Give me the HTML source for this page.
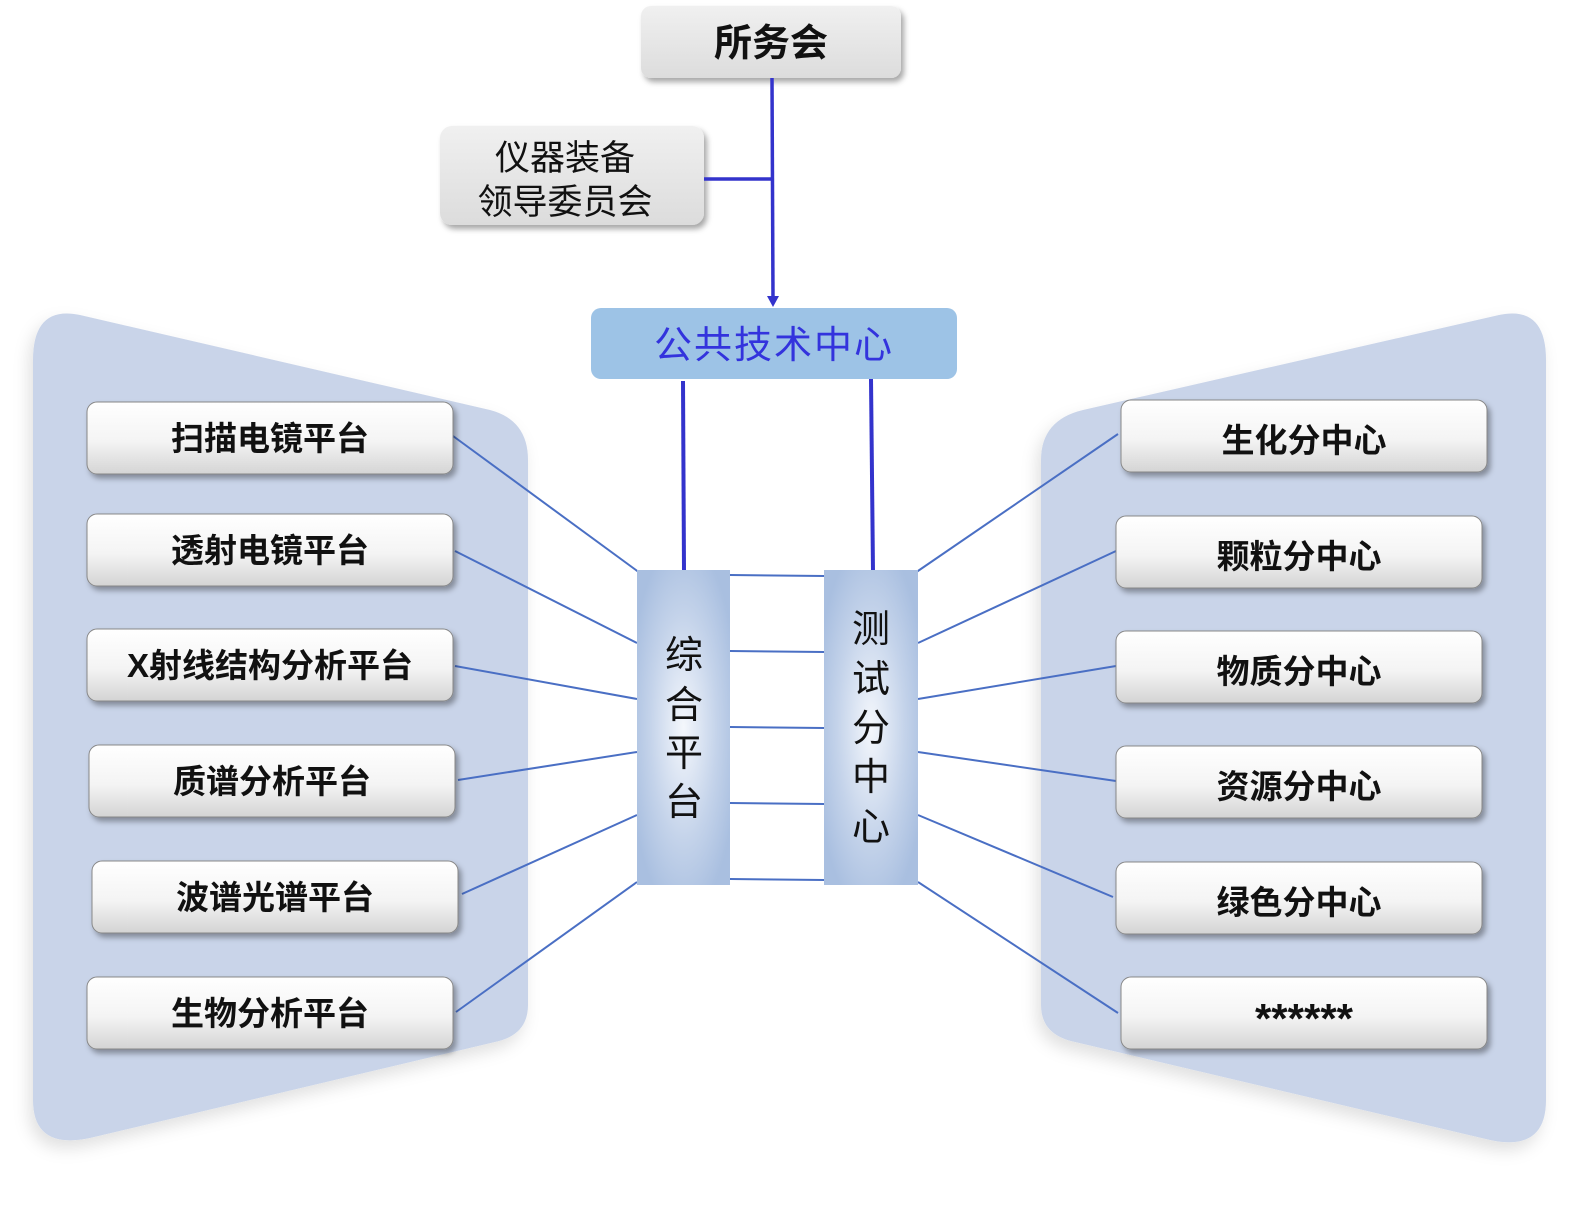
<!DOCTYPE html>
<html><head><meta charset="utf-8"><style>
html,body{margin:0;padding:0;background:#fff;}
svg{display:block;}
text{font-family:"Liberation Sans","Noto Sans CJK SC",sans-serif;}
</style></head><body>
<svg width="1575" height="1226" viewBox="0 0 1575 1226" xmlns="http://www.w3.org/2000/svg">
<defs>
<linearGradient id="btn" x1="0" y1="0" x2="0" y2="1">
<stop offset="0" stop-color="#ffffff"/><stop offset="0.55" stop-color="#f4f4f4"/><stop offset="1" stop-color="#d4d4d4"/>
</linearGradient>
<linearGradient id="gray" x1="0" y1="0" x2="0" y2="1">
<stop offset="0" stop-color="#f0f0f0"/><stop offset="1" stop-color="#dcdcdc"/>
</linearGradient>
<radialGradient id="col" cx="0.5" cy="0.5" r="0.6">
<stop offset="0" stop-color="#f4f7fc"/><stop offset="0.6" stop-color="#c4d3ea"/><stop offset="1" stop-color="#a9bfe0"/>
</radialGradient>
<filter id="sh" x="-10%" y="-10%" width="130%" height="140%"><feDropShadow dx="3" dy="4" stdDeviation="3" flood-color="#000" flood-opacity="0.35"/></filter>
<filter id="psh" x="-10%" y="-10%" width="120%" height="120%"><feDropShadow dx="-4" dy="8" stdDeviation="8" flood-color="#000" flood-opacity="0.12"/></filter>
</defs>

<path d="M33,360 Q33,305 80,315 L490,410 Q528,420 528,460 L528,1005 Q528,1035 495,1042 L90,1138 Q33,1150 33,1100 Z" fill="#c9d4e9" filter="url(#psh)"/>
<path d="M1546,360 Q1546,305 1499,315 L1083,410 Q1041,420 1041,460 L1041,1005 Q1041,1035 1075,1042 L1490,1140 Q1546,1152 1546,1100 Z" fill="#c9d4e9" filter="url(#psh)"/>

<rect x="641" y="6" width="260" height="72" rx="10" fill="url(#gray)" filter="url(#sh)"/>
<text x="771" y="56" font-size="38" font-weight="bold" text-anchor="middle" fill="#111">所务会</text>
<rect x="440" y="126" width="264" height="99" rx="12" fill="url(#gray)" filter="url(#sh)"/>
<text x="565" y="170" font-size="35" text-anchor="middle" fill="#111">仪器装备</text>
<text x="565" y="214" font-size="35" text-anchor="middle" fill="#111">领导委员会</text>
<line x1="772" y1="78" x2="773" y2="298" stroke="#3333cc" stroke-width="3.5"/>
<polygon points="767,296 779,296 773,307" fill="#3333cc"/>
<line x1="704" y1="179" x2="772" y2="179" stroke="#3333cc" stroke-width="3.5"/>

<rect x="591" y="308" width="366" height="71" rx="10" fill="#9dc3e6"/>
<text x="774" y="358" font-size="38" text-anchor="middle" fill="#3333dd" letter-spacing="2">公共技术中心</text>
<line x1="683" y1="381" x2="684" y2="572" stroke="#3333cc" stroke-width="4"/>
<line x1="871" y1="379" x2="873" y2="572" stroke="#3333cc" stroke-width="4"/>

<g stroke="#4a6fc4" stroke-width="2" fill="none">
<line x1="453" y1="436" x2="640" y2="573"/>
<line x1="455" y1="551" x2="637" y2="643"/>
<line x1="455" y1="666" x2="637" y2="699"/>
<line x1="458" y1="780" x2="637" y2="752"/>
<line x1="462" y1="894" x2="637" y2="815"/>
<line x1="456" y1="1012" x2="637" y2="882"/>
<line x1="915" y1="573" x2="1118" y2="434"/>
<line x1="918" y1="643" x2="1116" y2="551"/>
<line x1="918" y1="699" x2="1116" y2="666"/>
<line x1="918" y1="752" x2="1116" y2="781"/>
<line x1="918" y1="815" x2="1113" y2="897"/>
<line x1="918" y1="882" x2="1118" y2="1013"/>
<line x1="730" y1="575" x2="824" y2="576"/>
<line x1="730" y1="651" x2="824" y2="652"/>
<line x1="730" y1="727" x2="824" y2="728"/>
<line x1="730" y1="803" x2="824" y2="804"/>
<line x1="730" y1="879" x2="824" y2="880"/>
</g>

<rect x="637" y="570" width="93" height="315" fill="url(#col)"/>
<rect x="824" y="570" width="94" height="315" fill="url(#col)"/>
<g font-size="38" text-anchor="middle" fill="#111">
<text x="684" y="668">综</text><text x="684" y="718">合</text><text x="684" y="766">平</text><text x="684" y="815">台</text>
<text x="871" y="642">测</text><text x="871" y="692">试</text><text x="871" y="741">分</text><text x="871" y="790">中</text><text x="871" y="840">心</text>
</g>

<g filter="url(#sh)">
<rect x="87" y="402" width="366" height="72" rx="10" fill="url(#btn)" stroke="#888" stroke-width="1"/>
<rect x="87" y="514" width="366" height="72" rx="10" fill="url(#btn)" stroke="#888" stroke-width="1"/>
<rect x="87" y="629" width="366" height="72" rx="10" fill="url(#btn)" stroke="#888" stroke-width="1"/>
<rect x="89" y="745" width="366" height="72" rx="10" fill="url(#btn)" stroke="#888" stroke-width="1"/>
<rect x="92" y="861" width="366" height="72" rx="10" fill="url(#btn)" stroke="#888" stroke-width="1"/>
<rect x="87" y="977" width="366" height="72" rx="10" fill="url(#btn)" stroke="#888" stroke-width="1"/>
<rect x="1121" y="400" width="366" height="72" rx="10" fill="url(#btn)" stroke="#888" stroke-width="1"/>
<rect x="1116" y="516" width="366" height="72" rx="10" fill="url(#btn)" stroke="#888" stroke-width="1"/>
<rect x="1116" y="631" width="366" height="72" rx="10" fill="url(#btn)" stroke="#888" stroke-width="1"/>
<rect x="1116" y="746" width="366" height="72" rx="10" fill="url(#btn)" stroke="#888" stroke-width="1"/>
<rect x="1116" y="862" width="366" height="72" rx="10" fill="url(#btn)" stroke="#888" stroke-width="1"/>
<rect x="1121" y="977" width="366" height="72" rx="10" fill="url(#btn)" stroke="#888" stroke-width="1"/>
</g>
<g font-size="33" font-weight="bold" text-anchor="middle" fill="#111">
<text x="270" y="450">扫描电镜平台</text>
<text x="270" y="562">透射电镜平台</text>
<text x="270" y="677">X射线结构分析平台</text>
<text x="272" y="793">质谱分析平台</text>
<text x="275" y="909">波谱光谱平台</text>
<text x="270" y="1025">生物分析平台</text>
<text x="1304" y="452">生化分中心</text>
<text x="1299" y="568">颗粒分中心</text>
<text x="1299" y="683">物质分中心</text>
<text x="1299" y="798">资源分中心</text>
<text x="1299" y="914">绿色分中心</text>
<text x="1304" y="1033" font-size="42">******</text>
</g>
</svg>
</body></html>
